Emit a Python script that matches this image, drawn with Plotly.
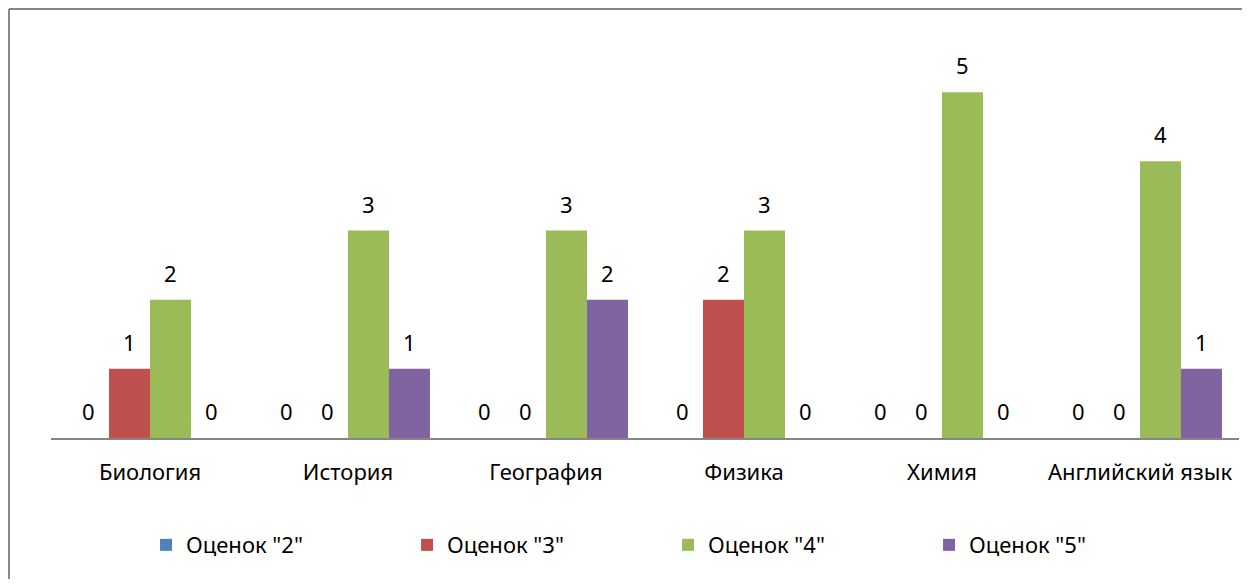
import plotly.graph_objects as go

categories = ["Биология", "История", "География", "Физика", "Химия", "Английский язык"]
series_names = ['Оценок "2"', 'Оценок "3"', 'Оценок "4"', 'Оценок "5"']
grade2 = [0, 0, 0, 0, 0, 0]
grade3 = [1, 0, 0, 2, 0, 0]
grade4 = [2, 3, 3, 3, 5, 4]
grade5 = [0, 1, 2, 0, 0, 1]
colors = ["#4F81BD", "#C0504D", "#9BBB59", "#8064A2"]

series_values = [grade2, grade3, grade4, grade5]
FONT = "Noto Sans"
FS = 22

fig = go.Figure()
for name, vals, col in zip(series_names, series_values, colors):
    fig.add_trace(go.Bar(x=categories, y=vals, name=name, marker_color=col,
                         marker_line_width=0))

# data labels above bars
bar_px = 41
annotations = []
for i, vals in enumerate(series_values):
    for cat, v in zip(categories, vals):
        annotations.append(dict(x=cat, y=v, xref="x", yref="y", text=str(v),
                                showarrow=False, xshift=(i - 1.5) * bar_px,
                                yshift=27, yanchor="middle",
                                font=dict(family=FONT, size=FS, color="#000000")))

border = dict(color="#868686", width=2)
fig.update_layout(
    width=1242, height=571,
    margin=dict(l=43, r=11, t=15, b=141),
    paper_bgcolor="white", plot_bgcolor="white",
    barmode="group", bargap=0.172, bargroupgap=0,
    font=dict(family=FONT, size=FS, color="#000000"),
    annotations=annotations,
    showlegend=True,
    legend=dict(orientation="h", x=0.080, y=-0.258, xanchor="left", yanchor="middle",
                entrywidth=216, entrywidthmode="pixels",
                font=dict(family=FONT, size=FS, color="#000000"),
                itemwidth=30, tracegroupgap=0),
    shapes=[
        dict(type="line", xref="paper", yref="paper",
             x0=-0.0354, x1=1.05, y0=1.0337, y1=1.0337, line=border, layer="below"),
        dict(type="line", xref="paper", yref="paper",
             x0=-0.0354, x1=-0.0354, y0=-0.5, y1=1.0337, line=border, layer="below"),
    ],
)
fig.update_xaxes(showline=True, linecolor="#868686", linewidth=1.5, ticks="",
                 showgrid=False, ticklabelstandoff=14,
                 tickfont=dict(family=FONT, size=FS, color="#000000"))
fig.update_yaxes(range=[0, 6], visible=False, showgrid=False, zeroline=False)

fig.write_html("out.html")
